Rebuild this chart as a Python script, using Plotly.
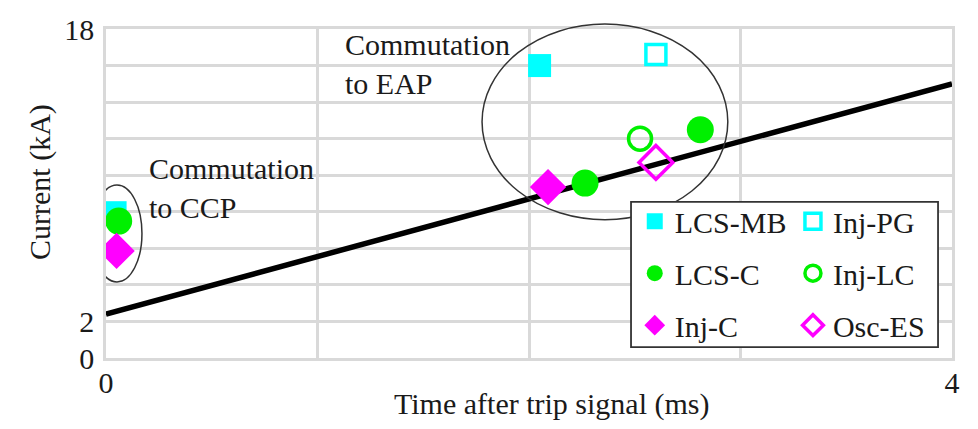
import plotly.graph_objects as go

# ---------------- data ----------------
x_range = [0, 4]
y_range = [0, 18]
x_tick_vals = [0, 1, 2, 3, 4]
x_tick_text = ["0", "", "", "", "4"]
y_tick_vals = [0, 2, 4, 6, 8, 10, 12, 14, 16, 18]
y_tick_text = ["0", "2", "", "", "", "", "", "", "", "18"]

trend_x = [0, 4]
trend_y = [2.4, 15.0]

lcs_mb_x = [0.043, 2.05]
lcs_mb_y = [7.95, 16.0]
lcs_c_x = [0.06, 2.265, 2.81]
lcs_c_y = [7.49, 9.57, 12.49]
inj_c_x = [0.05, 2.09]
inj_c_y = [5.86, 9.35]
inj_pg_x = [2.60]
inj_pg_y = [16.6]
inj_lc_x = [2.525]
inj_lc_y = [12.0]
osc_es_x = [2.60]
osc_es_y = [10.7]

series_names = ["LCS-MB", "LCS-C", "Inj-C", "Inj-PG", "Inj-LC", "Osc-ES"]

FONT = "Liberation Serif"
FS = 30
TXT = "#1a1a1a"
CYAN = "#00ffff"
GREEN = "#00f000"
MAGENTA = "#ff00ff"
GRID = "#d9d9d9"

fig = go.Figure()
fig.add_trace(go.Scatter(x=trend_x, y=trend_y, mode="lines",
                         line=dict(color="black", width=5.5),
                         showlegend=False, hoverinfo="skip"))

specs = [
    (series_names[0], lcs_mb_x, lcs_mb_y, "square", CYAN, 23, "legend", 1),
    (series_names[1], lcs_c_x, lcs_c_y, "circle", GREEN, 27, "legend", 2),
    (series_names[2], inj_c_x, inj_c_y, "diamond", MAGENTA, 28, "legend", 3),
    (series_names[3], inj_pg_x, inj_pg_y, "square-open", CYAN, 20, "legend2", 1),
    (series_names[4], inj_lc_x, inj_lc_y, "circle-open", GREEN, 23, "legend2", 2),
    (series_names[5], osc_es_x, osc_es_y, "diamond-open", MAGENTA, 26, "legend2", 3),
]
for name, xs, ys, sym, col, size, leg, grp in specs:
    fig.add_trace(go.Scatter(
        x=xs, y=ys, mode="markers", name=name, legend=leg,
        legendgroup=f"{leg}_{grp}",
        marker=dict(symbol=sym, color=col, size=size,
                    line=dict(color=col, width=3.5 if "open" in sym else 0)),
    ))

# ellipses (x in data, y in paper so they may extend past the top)
def yp(v):
    return (v - y_range[0]) / (y_range[1] - y_range[0])

shapes = [
    dict(type="circle", xref="x", yref="paper", x0=-0.066, x1=0.17,
         y0=yp(4.16), y1=yp(9.46), line=dict(color="#333333", width=1.5),
         layer="above"),
    dict(type="circle", xref="x", yref="paper", x0=1.778, x1=2.94,
         y0=yp(7.57), y1=yp(18.27), line=dict(color="#333333", width=1.5),
         layer="above"),
    # legend frame
    dict(type="rect", xref="paper", yref="paper", x0=0.6206, x1=0.9835,
         y0=0.033, y1=0.4745, line=dict(color="#333333", width=1.8),
         fillcolor="white", layer="above"),
]

annotations = [
    dict(text="Commutation<br>to CCP", x=0.194, y=9.3, xref="x", yref="y",
         xanchor="left", yanchor="middle", align="left", showarrow=False,
         font=dict(family=FONT, size=FS, color=TXT)),
    dict(text="Commutation<br>to EAP", x=1.12, y=16.1, xref="x", yref="y",
         xanchor="left", yanchor="middle", align="left", showarrow=False,
         font=dict(family=FONT, size=FS, color=TXT)),
    dict(text="Time after trip signal (ms)", x=0.527, y=-0.141, xref="paper",
         yref="paper", xanchor="center", yanchor="middle", showarrow=False,
         font=dict(family=FONT, size=FS, color=TXT)),
    dict(text="Current (kA)", x=-0.078, y=0.535, xref="paper", yref="paper",
         xanchor="center", yanchor="middle", showarrow=False, textangle=-90,
         font=dict(family=FONT, size=FS, color=TXT)),
]

axis_common = dict(showgrid=True, gridcolor=GRID, gridwidth=2.5,
                   showline=True, linecolor=GRID, linewidth=2.5, mirror=True,
                   zeroline=False, ticks="",
                   tickfont=dict(family=FONT, size=FS, color=TXT))

fig.update_layout(
    width=978, height=429,
    margin=dict(l=106, r=26, t=25, b=71, pad=0),
    paper_bgcolor="white", plot_bgcolor="white",
    font=dict(family=FONT, size=FS, color=TXT),
    xaxis=dict(range=x_range, tickmode="array", tickvals=x_tick_vals,
               ticktext=x_tick_text, ticklabelstandoff=-4, **axis_common),
    yaxis=dict(range=y_range, tickmode="array", tickvals=y_tick_vals,
               ticktext=y_tick_text, ticklabelstandoff=3, **axis_common),
    shapes=shapes,
    annotations=annotations,
    legend=dict(x=0.625, y=0.495, xanchor="left", yanchor="top",
                bgcolor="rgba(0,0,0,0)", borderwidth=0, tracegroupgap=10,
                font=dict(family=FONT, size=FS, color=TXT)),
    legend2=dict(x=0.812, y=0.495, xanchor="left", yanchor="top",
                 bgcolor="rgba(0,0,0,0)", borderwidth=0, tracegroupgap=10,
                 font=dict(family=FONT, size=FS, color=TXT)),
    showlegend=True,
)

fig.write_html("out.html", config={"displayModeBar": False},
               post_script="document.body.style.margin='0';document.body.style.padding='0';")
